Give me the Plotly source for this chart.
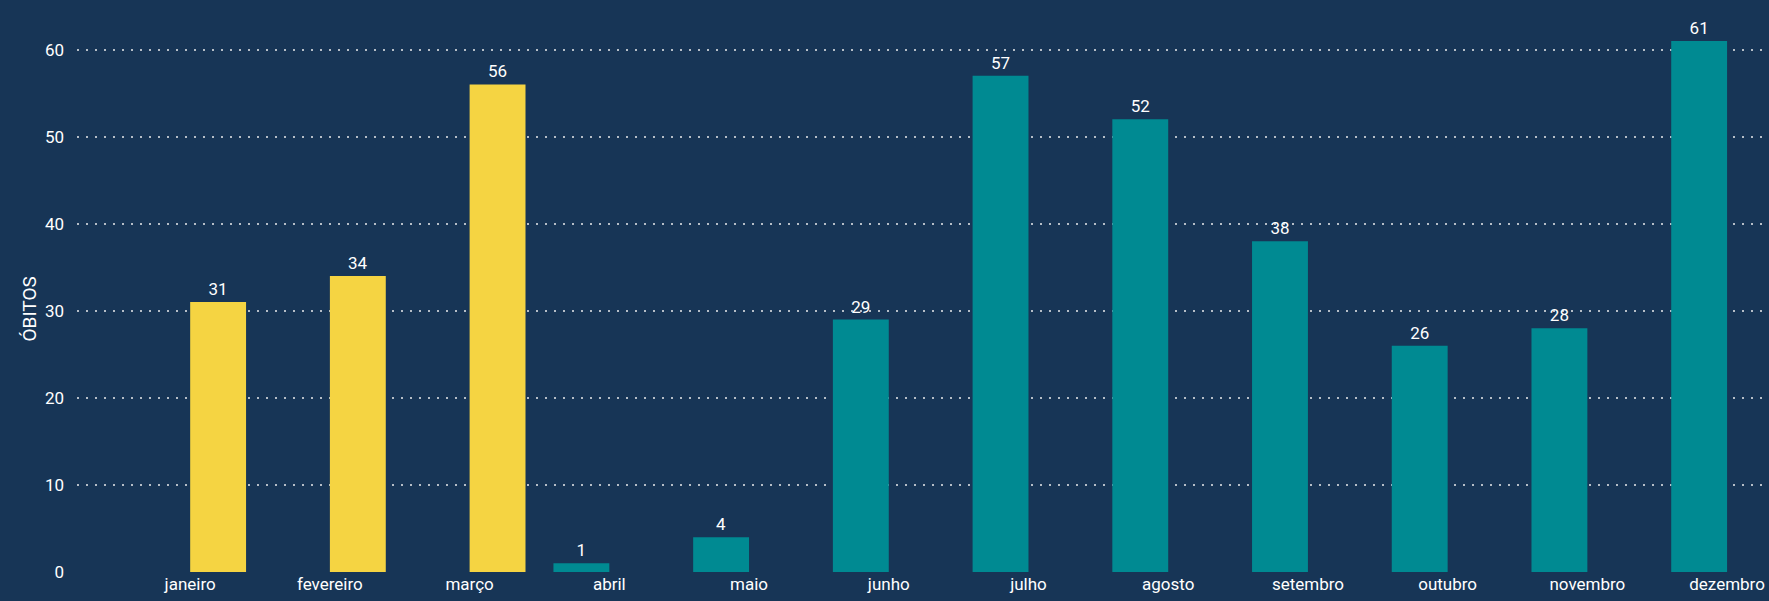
import plotly.graph_objects as go

meses = ['janeiro', 'fevereiro', 'março', 'abril', 'maio', 'junho',
         'julho', 'agosto', 'setembro', 'outubro', 'novembro', 'dezembro']

# two series, drawn as grouped bars (teal on the left slot, yellow on the right)
obitos_teal = [None, None, None, 1, 4, 29, 57, 52, 38, 26, 28, 61]
obitos_amarelo = [31, 34, 56, None, None, None, None, None, None, None, None, None]

y_ticks = [0, 10, 20, 30, 40, 50, 60]

font_family = "Segoe UI, Roboto, Open Sans, sans-serif"

fig = go.Figure()

fig.add_trace(go.Bar(
    x=meses,
    y=obitos_teal,
    marker=dict(color='#008a92', line=dict(width=0)),
    texttemplate='%{y}',
    textposition='outside',
    textfont=dict(color='white', size=17, family=font_family),
    cliponaxis=False,
    showlegend=False,
))

fig.add_trace(go.Bar(
    x=meses,
    y=obitos_amarelo,
    marker=dict(color='#f5d442', line=dict(width=0)),
    texttemplate='%{y}',
    textposition='outside',
    textfont=dict(color='white', size=17, family=font_family),
    cliponaxis=False,
    showlegend=False,
))

fig.update_layout(
    width=1769,
    height=601,
    barmode='group',
    bargap=0.2,
    bargroupgap=0,
    paper_bgcolor='#173556',
    plot_bgcolor='rgba(0,0,0,0)',
    margin=dict(l=77, r=0, t=0, b=29),
    font=dict(family=font_family, color='white', size=17),
    xaxis=dict(
        range=[-0.81, 11.3],
        showgrid=False,
        showline=False,
        zeroline=False,
        ticks='',
        tickfont=dict(color='white', size=17),
        ticklabelstandoff=0,
    ),
    yaxis=dict(
        range=[0, 65.7],
        tickvals=y_ticks,
        showgrid=True,
        gridcolor='rgba(200,205,212,0.9)',
        gridwidth=2,
        griddash='2px,7px',
        zeroline=False,
        showline=False,
        ticks='',
        tickfont=dict(color='white', size=17),
        ticklabelstandoff=12,
    ),
    annotations=[dict(
        text='ÓBITOS',
        textangle=-90,
        xref='paper', yref='paper',
        x=-0.036, y=0.46,
        showarrow=False,
        font=dict(color='white', size=19, family=font_family),
    )],
)

fig.write_html("out.html", config={'displayModeBar': False},
               post_script="document.body.style.margin='0';")
